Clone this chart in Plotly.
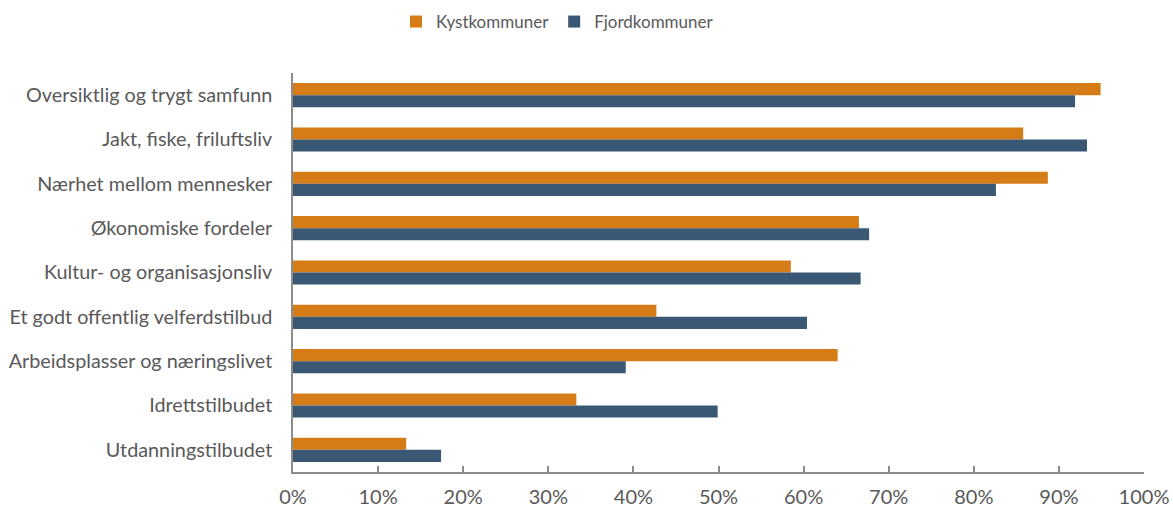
import plotly.graph_objects as go

categories = [
    "Oversiktlig og trygt samfunn",
    "Jakt, fiske, friluftsliv",
    "Nærhet mellom mennesker",
    "Økonomiske fordeler",
    "Kultur- og organisasjonsliv",
    "Et godt offentlig velferdstilbud",
    "Arbeidsplasser og næringslivet",
    "Idrettstilbudet",
    "Utdanningstilbudet",
]
kyst = [94.9, 85.8, 88.7, 66.5, 58.5, 42.7, 64.0, 33.3, 13.3]
fjord = [91.9, 93.3, 82.6, 67.7, 66.7, 60.4, 39.1, 49.9, 17.4]
tick_vals = [0, 10, 20, 30, 40, 50, 60, 70, 80, 90, 100]
tick_text = [f"{v}%" for v in tick_vals]

FONT = "Lato"
GREY = "#595959"
AXIS = "#8c8c8c"

fig = go.Figure()
fig.add_trace(go.Bar(y=categories, x=kyst, name="Kystkommuner", orientation="h",
                     marker=dict(color="#D67C17", line=dict(width=0))))
fig.add_trace(go.Bar(y=categories, x=fjord, name="Fjordkommuner", orientation="h",
                     marker=dict(color="#3A5874", line=dict(width=0))))

fig.update_layout(
    width=1173, height=508,
    margin=dict(l=293, r=29, t=73, b=36, autoexpand=False),
    paper_bgcolor="white", plot_bgcolor="white",
    barmode="group", bargap=0.455, bargroupgap=0,
    font=dict(family=FONT, size=20, color=GREY),
    legend=dict(orientation="h", xref="container", yref="container",
                x=0.4753, xanchor="center", y=1 - 22 / 508, yanchor="middle",
                font=dict(family=FONT, size=17, color=GREY), itemwidth=30,
                traceorder="normal"),
    hovermode=False,
)
fig.update_xaxes(range=[0, 100], tickvals=tick_vals, ticktext=tick_text,
                 showline=True, linecolor=AXIS, linewidth=1.5,
                 ticks="inside", ticklen=6, tickcolor=AXIS, tickwidth=1.5,
                 ticklabelstandoff=6,
                 showgrid=False, zeroline=False, automargin=False,
                 tickfont=dict(family=FONT, size=20, color=GREY))
fig.update_yaxes(autorange="reversed", showline=True, linecolor=AXIS, linewidth=1.5,
                 ticks="", showgrid=False, ticklabelstandoff=15, automargin=False,
                 tickfont=dict(family=FONT, size=19.8, color=GREY))

fig.write_html("out.html", config={"displayModeBar": False},
               post_script="document.body.style.margin='0';document.body.style.padding='0';")
